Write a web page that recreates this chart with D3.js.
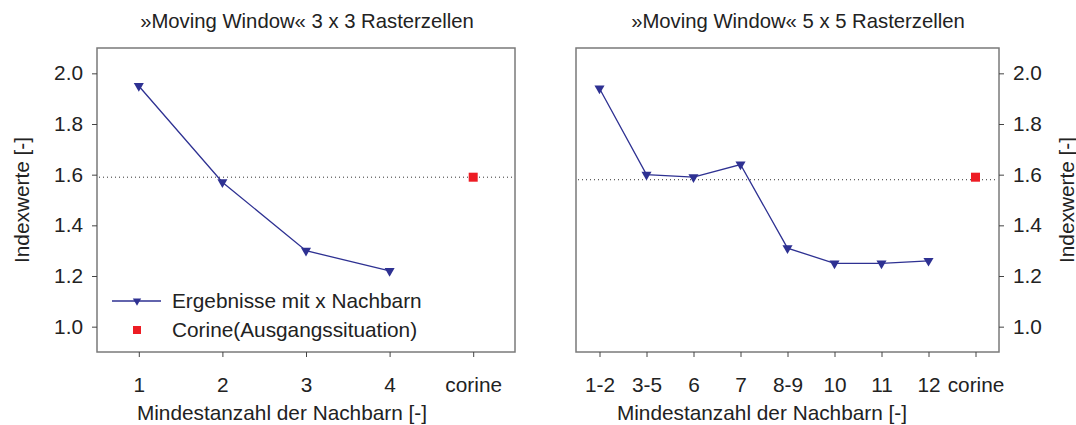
<!DOCTYPE html>
<html>
<head>
<meta charset="utf-8">
<script src="https://cdn.jsdelivr.net/npm/d3@7"></script>
<style>
  body { margin: 0; background: #fff; }
  svg text { font-family: "Liberation Sans", Arial, sans-serif; fill: #222; }
</style>
</head>
<body>
<div id="container"></div>
<script>
// data
const cats_3x3 = ["1", "2", "3", "4", "corine"];
const vals_3x3 = [1.95, 1.57, 1.30, 1.22];
const corine_3x3 = 1.59;
const refline_3x3 = 1.59;

const cats_5x5 = ["1-2", "3-5", "6", "7", "8-9", "10", "11", "12", "corine"];
const vals_5x5 = [1.94, 1.60, 1.59, 1.64, 1.31, 1.25, 1.25, 1.26];
const corine_5x5 = 1.59;
const refline_5x5 = 1.58;

const y_ticks = [1.0, 1.2, 1.4, 1.6, 1.8, 2.0];
const y_domain = [0.9, 2.1];

const line_col = "#2e3192",
      red_col = "#ed1c24",
      frame_col = "#7a7a7a";

var W = 1076, H = 425;
var y_top = 48, y_bottom = 352;
var fs = "20.8px";

var svg = d3.select("#container").append("svg")
    .attr("width", W)
    .attr("height", H);

var tri = d3.symbol().type(d3.symbolTriangle).size(44);

var draw_panel = function(opt){
    var x = d3.scalePoint()
        .domain(opt.cats)
        .range([opt.x0, opt.x1])
        .padding(0.5);

    var y = d3.scaleLinear()
        .domain(y_domain)
        .range([y_bottom, y_top]);

    var g = svg.append("g");

    // frame
    g.append("rect")
        .attr("x", opt.x0)
        .attr("y", y_top)
        .attr("width", opt.x1 - opt.x0)
        .attr("height", y_bottom - y_top)
        .style("fill", "none")
        .style("stroke", frame_col)
        .style("stroke-width", 1.5);

    // x axis
    var xa = g.append("g")
        .attr("transform", "translate(0," + y_bottom + ")")
        .call(d3.axisBottom(x).tickSize(5).tickPadding(20));
    xa.select(".domain").remove();
    xa.selectAll("line").style("stroke", "#444");
    xa.selectAll("text").style("font-size", fs).style("fill", "#222");

    // y axis
    var yax = opt.right ? d3.axisRight(y) : d3.axisLeft(y);
    var ya = g.append("g")
        .attr("transform", "translate(" + (opt.right ? opt.x1 : opt.x0) + ",0)")
        .call(yax.tickValues(y_ticks).tickFormat(d3.format(".1f")).tickSize(5).tickPadding(9));
    ya.select(".domain").remove();
    ya.selectAll("line").style("stroke", "#444");
    ya.selectAll("text").style("font-size", fs).style("fill", "#222");

    // dotted reference line
    g.append("line")
        .attr("x1", opt.x0 + 2)
        .attr("x2", opt.x1 - 2)
        .attr("y1", y(opt.ref))
        .attr("y2", y(opt.ref))
        .style("stroke", "#333")
        .style("stroke-width", 1)
        .style("stroke-dasharray", "1,3");

    // series
    var pts = opt.vals.map(function(v, i){ return [opt.cats[i], v]; });
    g.append("path")
        .datum(pts)
        .attr("d", d3.line()
              .x(function(d){ return x(d[0]); })
              .y(function(d){ return y(d[1]); }))
        .style("fill", "none")
        .style("stroke", line_col)
        .style("stroke-width", 1.3);

    g.selectAll("path.mark")
        .data(pts)
        .enter()
        .append("path")
        .classed("mark", true)
        .attr("d", tri)
        .attr("transform", function(d){
            return "translate(" + x(d[0]) + "," + y(d[1]) + ") rotate(180)";
        })
        .style("fill", line_col);

    // corine square
    g.append("rect")
        .attr("x", x("corine") - 4.5)
        .attr("y", y(opt.corine) - 4.5)
        .attr("width", 9)
        .attr("height", 9)
        .style("fill", red_col);

    // title
    g.append("text")
        .attr("x", opt.title_x)
        .attr("y", 28)
        .attr("text-anchor", "middle")
        .style("font-size", "20.3px")
        .text(opt.title);

    // x label
    g.append("text")
        .attr("x", opt.xlab_x)
        .attr("y", 420)
        .attr("text-anchor", "middle")
        .style("font-size", fs)
        .text("Mindestanzahl der Nachbarn [-]");

    // y label
    g.append("text")
        .attr("transform", "translate(" + opt.ylab_x + "," + ((y_top + y_bottom) / 2) + ") rotate(-90)")
        .attr("text-anchor", "middle")
        .attr("dominant-baseline", "central")
        .style("font-size", fs)
        .text("Indexwerte [-]");

    return g;
}

var left = draw_panel({
    cats: cats_3x3, vals: vals_3x3, corine: corine_3x3, ref: refline_3x3,
    x0: 97, x1: 515, right: false,
    title: "»Moving Window« 3 x 3 Rasterzellen", title_x: 307,
    xlab_x: 282, ylab_x: 21
});

draw_panel({
    cats: cats_5x5, vals: vals_5x5, corine: corine_5x5, ref: refline_5x5,
    x0: 576, x1: 999, right: true,
    title: "»Moving Window« 5 x 5 Rasterzellen", title_x: 798,
    xlab_x: 762, ylab_x: 1066
});

// legend in the left panel
var lg = left.append("g");
lg.append("line")
    .attr("x1", 112).attr("x2", 161)
    .attr("y1", 301).attr("y2", 301)
    .style("stroke", line_col)
    .style("stroke-width", 1.3);
lg.append("path")
    .attr("d", d3.symbol().type(d3.symbolTriangle).size(30))
    .attr("transform", "translate(137,301) rotate(180)")
    .style("fill", line_col);
lg.append("text")
    .attr("x", 172).attr("y", 308)
    .style("font-size", fs)
    .text("Ergebnisse mit x Nachbarn");
lg.append("rect")
    .attr("x", 133).attr("y", 326)
    .attr("width", 8).attr("height", 8)
    .style("fill", red_col);
lg.append("text")
    .attr("x", 172).attr("y", 337)
    .style("font-size", fs)
    .text("Corine(Ausgangssituation)");
</script>
</body>
</html>
